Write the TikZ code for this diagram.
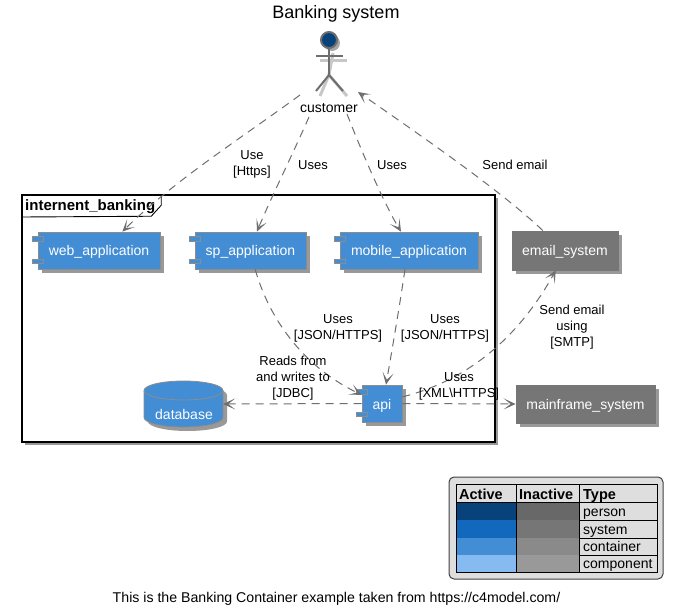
\documentclass[tikz,border=0pt]{standalone}
\usepackage{fontspec}
\setmainfont{Liberation Sans}
\usetikzlibrary{arrows.meta,shadows}

\definecolor{personblue}{HTML}{08427B}
\definecolor{systemblue}{HTML}{1168BD}
\definecolor{containerblue}{HTML}{438DD5}
\definecolor{componentblue}{HTML}{85BBF0}
\definecolor{extgray}{HTML}{767676}
\definecolor{linegray}{HTML}{6E6E6E}

\tikzset{
  boxshadow/.style={drop shadow={shadow xshift=4pt,shadow yshift=-4pt,fill=black!40,opacity=1}},
  comp/.style={rectangle,draw=black!45,line width=0.8pt,fill=containerblue,text=white,inner sep=0pt,
    minimum height=37pt,text height=13pt,text depth=2pt,font=\fontsize{14}{17}\selectfont,boxshadow},
  port/.style={draw=black!45,line width=0.8pt,fill=containerblue},
  extsys/.style={comp,draw=extgray,fill=extgray},
  rel/.style={draw=linegray,line width=1pt,dash pattern=on 8pt off 6pt,
    -{Stealth[length=12pt,width=11pt,inset=7pt]}},
  rellabel/.style={align=center,font=\fontsize{13}{16}\selectfont,inner sep=0pt},
  legendtext/.style={anchor=base west,font=\fontsize{14}{17}\selectfont,inner sep=0pt},
  legendhead/.style={legendtext,font=\fontsize{14.5}{17}\selectfont\bfseries},
}

\begin{document}
\begin{tikzpicture}[x=1pt,y=-1pt]
\useasboundingbox (0,0) rectangle (673,615);

\node[font=\fontsize{18}{20}\selectfont] (title) at (336,14) {Banking system};

% the boundary with its tab
\node[rectangle,draw=black,line width=1.5pt,fill=white,minimum width=473pt,minimum height=247pt,
  drop shadow={shadow xshift=3pt,shadow yshift=-3pt,fill=black!40,opacity=1}] (banking) at (258.5,318.5) {};
\draw[line width=0.9pt] (banking.north west) ++(140,0) -- ++(0,11) -- ++(-10,11) -- (22,217);
\node[anchor=west,font=\fontsize{15}{17}\selectfont\bfseries,inner sep=0pt] (bankingtitle) at (25,206.5) {internent\_banking};

% actor
\node[circle,draw=linegray,line width=2pt,fill=personblue,minimum size=16pt,inner sep=0pt,
  drop shadow={shadow xshift=3pt,shadow yshift=-3pt,fill=black!35,opacity=1}] (head) at (329,40) {};
\coordinate (hip) at (329,75);
\begin{scope}[black!22,line width=3pt,xshift=4pt,yshift=-5pt]
\draw (329,48) -- (hip);
\draw (316,56) -- (343,56);
\draw (316,91) -- (hip) -- (343,91);
\end{scope}
\draw[linegray,line width=2pt] (head.south) -- (hip);
\draw[linegray,line width=2pt] (316,56) -- (343,56);
\draw[linegray,line width=2pt] (316,91) -- (hip) -- (343,91);
\node[rellabel,font=\fontsize{14}{17}\selectfont] (customer) at (329,108) {customer};
\coordinate (customerw) at (300,95);
\coordinate (customers) at (309,117);
\coordinate (customere) at (347,114);
\coordinate (customertip) at (358,92);

% containers
\node[comp,minimum width=122pt] (web) at (99,250.5) {web\_application};
\node[comp,minimum width=111pt] (sp) at (250.5,250.5) {sp\_application};
\node[comp,minimum width=138pt] (mobile) at (409,250.5) {mobile\_application};
\node[comp,minimum width=40pt] (api) at (382,403.5) {api};
\node[extsys,minimum width=106pt,minimum height=39pt] (email) at (565,250.5) {email\_system};
\node[extsys,minimum width=139pt,minimum height=38pt] (mainframe) at (585.5,404) {mainframe\_system};
\foreach \n in {web,sp,mobile,api}{
  \draw[port] (\n.north west) ++(-5,5) rectangle ++(11,5);
  \draw[port] (\n.south west) ++(-5,-10) rectangle ++(11,4);
}

\node[rectangle,inner sep=0pt,minimum width=79pt,minimum height=46pt] (database) at (183.5,404) {};
\fill[black!40] (148,395) arc[x radius=39.5pt,y radius=9.5pt,start angle=180,end angle=0] -- (227,421.5)
  arc[x radius=39.5pt,y radius=9.5pt,start angle=0,end angle=-180] -- cycle;
\draw[draw=black!45,line width=0.8pt,fill=containerblue] (144,390.5) arc[x radius=39.5pt,y radius=9.5pt,start angle=180,end angle=0] -- (223,417.5)
  arc[x radius=39.5pt,y radius=9.5pt,start angle=0,end angle=-180] -- cycle;
\draw[draw=black!45,line width=0.8pt] (144,390.5) arc[x radius=39.5pt,y radius=9.5pt,start angle=180,end angle=360];
\node[text=white,font=\fontsize{14}{17}\selectfont,inner sep=0pt] (databasetext) at (184,414) {database};

% relations
\draw[rel] (customerw) .. controls (240,139) and (175,180) .. (web.39);
\draw[rel] (customers) .. controls (290,160) and (270,200) .. (sp.71);
\draw[rel] (customere) .. controls (365,160) and (385,205) .. (mobile.113);
\draw[rel] (email.138) .. controls (500,190) and (420,135) .. (customertip);
\draw[rel] (sp.-76) .. controls (268,315) and (300,365) .. (api.157);
\draw[rel] (mobile.-102) .. controls (399,310) and (392,350) .. (api.78);
\draw[rel] (api.west) -- (database.east);
\draw[rel] (api.18) .. controls (470,380) and (520,335) .. (email.-115);
\draw[rel] (api.east) -- (mainframe.west);

\node[rellabel] (uselabel) at (252,164) {Use\\{}[Https]};
\node[rellabel] (spuses) at (313,165) {Uses};
\node[rellabel] (mobileuses) at (392,165) {Uses};
\node[rellabel] (sendlabel) at (515,165) {Send email};
\node[rellabel] (spjson) at (338,328) {Uses\\{}[JSON/HTTPS]};
\node[rellabel] (mobilejson) at (445,328) {Uses\\{}[JSON/HTTPS]};
\node[rellabel] (jdbclabel) at (293,378) {Reads from\\and writes to\\{}[JDBC]};
\node[rellabel] (smtplabel) at (572,327) {Send email\\using\\{}[SMTP]};
\node[rellabel] (xmllabel) at (459,386) {Uses\\{}[XML\textbackslash HTTPS]};

% legend
\node[rectangle,rounded corners=5pt,draw=black!75,line width=1pt,fill=black!13,
  minimum width=214pt,minimum height=102pt] (legend) at (556,528) {};
\foreach \rowtop/\rowbot/\activecol/\inactivecol/\typename in {
  502/520/personblue/686868/person,
  520/538/systemblue/767676/system,
  538/555/containerblue/8A8A8A/container,
  555/572/componentblue/999999/component}{
  \definecolor{inact}{HTML}{\inactivecol}
  \fill[\activecol] (456,\rowtop) rectangle (516,\rowbot);
  \fill[inact] (516,\rowtop) rectangle (579,\rowbot);
  \node[legendtext] (\typename) at (583,\rowbot-3.5) {\typename};
  \draw[black,line width=0.8pt] (456,\rowbot) -- (657,\rowbot);
}
\draw[black,line width=0.8pt] (456,484) rectangle (657,572);
\draw[black,line width=0.8pt] (456,502) -- (657,502);
\draw[black,line width=0.8pt] (516,484) -- (516,572);
\draw[black,line width=0.8pt] (579,484) -- (579,572);
\node[legendhead] (activehead) at (459,499) {Active};
\node[legendhead] (inactivehead) at (519,499) {Inactive};
\node[legendhead] (typehead) at (583,499) {Type};

\node[font=\fontsize{14.15}{17}\selectfont,inner sep=0pt] (caption) at (336.5,599) {This is the Banking Container example taken from https://c4model.com/};
\end{tikzpicture}
\end{document}
